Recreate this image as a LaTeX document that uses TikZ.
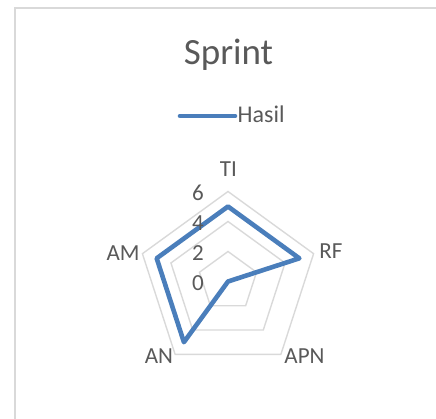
\documentclass[tikz,border=0pt]{standalone}
\usepackage{fontspec}
\setmainfont{Carlito}
\definecolor{txt}{HTML}{595959}
\definecolor{gridc}{HTML}{D9D9D9}
\definecolor{ser}{HTML}{4A7EBB}
\begin{document}
\begin{tikzpicture}[x=1pt,y=1pt,
  lbl/.style={font=\fontsize{23}{23}\selectfont, text=txt, inner sep=0pt},
  ring/.style={draw=gridc, line width=1.4pt, line join=miter},
  series/.style={draw=ser, line width=4.6pt, line join=round, line cap=round}]
\useasboundingbox (0,0) rectangle (436,-419);
% chart area border
\draw[gridc, line width=1.6pt] (15,-425) -- (15,-8) -- (442,-8);
% title and legend
\node[font=\fontsize{37}{37}\selectfont, text=txt, inner sep=0pt, anchor=base] (title) at (228.5,-65) {Sprint};
\coordinate (legA) at (180,-116);
\coordinate (legB) at (235,-116);
\draw[series] (legA) -- (legB);
\node[lbl, anchor=base west, font=\fontsize{24}{24}\selectfont] (leg) at (237.5,-122.7) {Hasil};
% radar
\begin{scope}[shift={(228,-281.5)}]
  \foreach \r in {30,60,90}{
    \draw[ring] (90:\r) -- (18:\r) -- (-54:\r) -- (-126:\r) -- (162:\r) -- cycle;
  }
  \coordinate (cen) at (0,0);
  \coordinate (pTI) at (90:75);
  \coordinate (pRF) at (18:75);
  \coordinate (pAPN) at (0,0);
  \coordinate (pAN) at (-126:75);
  \coordinate (pAM) at (162:75);
  \draw[series] (pTI) -- (pRF) -- (pAPN) -- (pAN) -- (pAM) -- cycle;
  % axis values
  \node[lbl, anchor=east] (v6) at (-24,88.2) {6};
  \node[lbl, anchor=east] (v4) at (-24,58.2) {4};
  \node[lbl, anchor=east] (v2) at (-24,28.2) {2};
  \node[lbl, anchor=east] (v0) at (-24,-1.8) {0};
\end{scope}
% category labels
\node[lbl] (TI) at (228.3,-169) {TI};
\node[lbl] (RF) at (330.8,-251.5) {RF};
\node[lbl] (APN) at (304.5,-356) {APN};
\node[lbl] (AN) at (159,-356) {AN};
\node[lbl] (AM) at (123,-253.3) {AM};
\end{tikzpicture}
\end{document}
